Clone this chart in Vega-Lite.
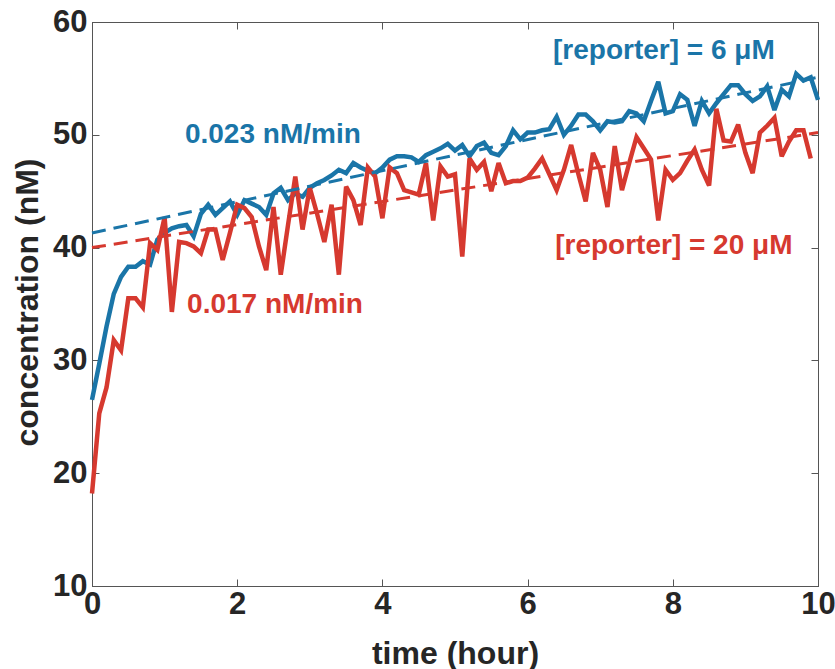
{
  "$schema": "https://vega.github.io/schema/vega-lite/v6.json",
  "width": 726,
  "height": 564,
  "autosize": {"type": "none"},
  "padding": {"left": 92, "top": 22, "right": 17, "bottom": 83},
  "background": "white",
  "config": {
    "view": {"stroke": "#555555", "strokeWidth": 1},
    "axis": {
      "grid": false,
      "labelFlush": false,
      "labelOverlap": false,
      "domainColor": "#555555",
      "tickColor": "#555555",
      "labelFont": "Liberation Sans",
      "labelFontWeight": "bold",
      "labelFontSize": 31,
      "labelColor": "#262626",
      "titleFont": "Liberation Sans",
      "titleFontWeight": "bold",
      "titleFontSize": 32,
      "titleColor": "#262626"
    }
  },
  "datasets": {
    "series": [
      {"t": 0.0, "v": 26.5, "s": "blue"}, {"t": 0.1, "v": 29.7, "s": "blue"}, {"t": 0.2, "v": 33.0, "s": "blue"}, {"t": 0.3, "v": 35.9, "s": "blue"}, {"t": 0.4, "v": 37.4, "s": "blue"},
      {"t": 0.5, "v": 38.3, "s": "blue"}, {"t": 0.6, "v": 38.3, "s": "blue"}, {"t": 0.7, "v": 38.8, "s": "blue"}, {"t": 0.8, "v": 38.5, "s": "blue"}, {"t": 0.9, "v": 40.7, "s": "blue"},
      {"t": 1.0, "v": 41.3, "s": "blue"}, {"t": 1.1, "v": 41.7, "s": "blue"}, {"t": 1.2, "v": 41.9, "s": "blue"}, {"t": 1.3, "v": 42.0, "s": "blue"}, {"t": 1.4, "v": 41.0, "s": "blue"},
      {"t": 1.5, "v": 43.0, "s": "blue"}, {"t": 1.6, "v": 43.8, "s": "blue"}, {"t": 1.7, "v": 42.9, "s": "blue"}, {"t": 1.8, "v": 43.5, "s": "blue"}, {"t": 1.9, "v": 44.1, "s": "blue"},
      {"t": 2.0, "v": 42.9, "s": "blue"}, {"t": 2.1, "v": 44.2, "s": "blue"}, {"t": 2.2, "v": 43.9, "s": "blue"}, {"t": 2.3, "v": 43.6, "s": "blue"}, {"t": 2.4, "v": 42.9, "s": "blue"},
      {"t": 2.5, "v": 44.8, "s": "blue"}, {"t": 2.6, "v": 45.3, "s": "blue"}, {"t": 2.7, "v": 44.2, "s": "blue"}, {"t": 2.8, "v": 44.8, "s": "blue"}, {"t": 2.9, "v": 44.5, "s": "blue"},
      {"t": 3.0, "v": 45.3, "s": "blue"}, {"t": 3.1, "v": 45.7, "s": "blue"}, {"t": 3.2, "v": 46.0, "s": "blue"}, {"t": 3.3, "v": 46.4, "s": "blue"}, {"t": 3.4, "v": 46.9, "s": "blue"},
      {"t": 3.5, "v": 46.6, "s": "blue"}, {"t": 3.6, "v": 47.5, "s": "blue"}, {"t": 3.7, "v": 47.1, "s": "blue"}, {"t": 3.8, "v": 46.8, "s": "blue"}, {"t": 3.9, "v": 46.6, "s": "blue"},
      {"t": 4.0, "v": 47.1, "s": "blue"}, {"t": 4.1, "v": 47.8, "s": "blue"}, {"t": 4.2, "v": 48.1, "s": "blue"}, {"t": 4.3, "v": 48.1, "s": "blue"}, {"t": 4.4, "v": 48.0, "s": "blue"},
      {"t": 4.5, "v": 47.6, "s": "blue"}, {"t": 4.6, "v": 48.2, "s": "blue"}, {"t": 4.7, "v": 48.5, "s": "blue"}, {"t": 4.8, "v": 48.8, "s": "blue"}, {"t": 4.9, "v": 49.2, "s": "blue"},
      {"t": 5.0, "v": 48.6, "s": "blue"}, {"t": 5.1, "v": 49.1, "s": "blue"}, {"t": 5.2, "v": 48.1, "s": "blue"}, {"t": 5.3, "v": 49.0, "s": "blue"}, {"t": 5.4, "v": 49.3, "s": "blue"},
      {"t": 5.5, "v": 48.4, "s": "blue"}, {"t": 5.6, "v": 48.2, "s": "blue"}, {"t": 5.7, "v": 49.0, "s": "blue"}, {"t": 5.8, "v": 50.4, "s": "blue"}, {"t": 5.9, "v": 49.6, "s": "blue"},
      {"t": 6.0, "v": 50.2, "s": "blue"}, {"t": 6.1, "v": 50.2, "s": "blue"}, {"t": 6.2, "v": 50.4, "s": "blue"}, {"t": 6.3, "v": 50.5, "s": "blue"}, {"t": 6.4, "v": 51.6, "s": "blue"},
      {"t": 6.5, "v": 50.0, "s": "blue"}, {"t": 6.6, "v": 50.8, "s": "blue"}, {"t": 6.7, "v": 51.8, "s": "blue"}, {"t": 6.8, "v": 51.8, "s": "blue"}, {"t": 6.9, "v": 51.2, "s": "blue"},
      {"t": 7.0, "v": 50.4, "s": "blue"}, {"t": 7.1, "v": 51.2, "s": "blue"}, {"t": 7.2, "v": 51.1, "s": "blue"}, {"t": 7.3, "v": 51.2, "s": "blue"}, {"t": 7.4, "v": 52.1, "s": "blue"},
      {"t": 7.5, "v": 51.9, "s": "blue"}, {"t": 7.6, "v": 51.2, "s": "blue"}, {"t": 7.7, "v": 53.0, "s": "blue"}, {"t": 7.8, "v": 54.7, "s": "blue"}, {"t": 7.9, "v": 51.9, "s": "blue"},
      {"t": 8.0, "v": 52.1, "s": "blue"}, {"t": 8.1, "v": 53.6, "s": "blue"}, {"t": 8.2, "v": 53.1, "s": "blue"}, {"t": 8.3, "v": 50.8, "s": "blue"}, {"t": 8.4, "v": 53.0, "s": "blue"},
      {"t": 8.5, "v": 51.9, "s": "blue"}, {"t": 8.6, "v": 52.8, "s": "blue"}, {"t": 8.7, "v": 53.6, "s": "blue"}, {"t": 8.8, "v": 54.4, "s": "blue"}, {"t": 8.9, "v": 54.4, "s": "blue"},
      {"t": 9.0, "v": 53.6, "s": "blue"}, {"t": 9.1, "v": 53.0, "s": "blue"}, {"t": 9.2, "v": 53.4, "s": "blue"}, {"t": 9.3, "v": 54.3, "s": "blue"}, {"t": 9.4, "v": 52.2, "s": "blue"},
      {"t": 9.5, "v": 54.0, "s": "blue"}, {"t": 9.6, "v": 53.4, "s": "blue"}, {"t": 9.7, "v": 55.4, "s": "blue"}, {"t": 9.8, "v": 54.8, "s": "blue"}, {"t": 9.9, "v": 55.1, "s": "blue"},
      {"t": 10.0, "v": 53.1, "s": "blue"},
      {"t": 0.0, "v": 18.2, "s": "red"}, {"t": 0.1, "v": 25.3, "s": "red"}, {"t": 0.2, "v": 27.6, "s": "red"}, {"t": 0.3, "v": 31.8, "s": "red"}, {"t": 0.4, "v": 30.9, "s": "red"},
      {"t": 0.5, "v": 35.5, "s": "red"}, {"t": 0.6, "v": 35.5, "s": "red"}, {"t": 0.7, "v": 34.7, "s": "red"}, {"t": 0.8, "v": 40.4, "s": "red"}, {"t": 0.9, "v": 39.8, "s": "red"},
      {"t": 1.0, "v": 42.7, "s": "red"}, {"t": 1.1, "v": 34.3, "s": "red"}, {"t": 1.2, "v": 40.5, "s": "red"}, {"t": 1.3, "v": 40.4, "s": "red"}, {"t": 1.4, "v": 40.1, "s": "red"},
      {"t": 1.5, "v": 39.5, "s": "red"}, {"t": 1.6, "v": 41.6, "s": "red"}, {"t": 1.7, "v": 41.6, "s": "red"}, {"t": 1.8, "v": 38.9, "s": "red"}, {"t": 1.9, "v": 41.3, "s": "red"},
      {"t": 2.0, "v": 43.8, "s": "red"}, {"t": 2.1, "v": 43.5, "s": "red"}, {"t": 2.2, "v": 42.7, "s": "red"}, {"t": 2.3, "v": 40.1, "s": "red"}, {"t": 2.4, "v": 38.0, "s": "red"},
      {"t": 2.5, "v": 43.6, "s": "red"}, {"t": 2.6, "v": 37.6, "s": "red"}, {"t": 2.7, "v": 42.0, "s": "red"}, {"t": 2.8, "v": 46.3, "s": "red"}, {"t": 2.9, "v": 41.6, "s": "red"},
      {"t": 3.0, "v": 45.3, "s": "red"}, {"t": 3.1, "v": 43.0, "s": "red"}, {"t": 3.2, "v": 40.5, "s": "red"}, {"t": 3.3, "v": 43.8, "s": "red"}, {"t": 3.4, "v": 37.6, "s": "red"},
      {"t": 3.5, "v": 45.4, "s": "red"}, {"t": 3.6, "v": 44.2, "s": "red"}, {"t": 3.7, "v": 42.0, "s": "red"}, {"t": 3.8, "v": 47.1, "s": "red"}, {"t": 3.9, "v": 46.3, "s": "red"},
      {"t": 4.0, "v": 42.6, "s": "red"}, {"t": 4.1, "v": 47.1, "s": "red"}, {"t": 4.2, "v": 46.6, "s": "red"}, {"t": 4.3, "v": 45.1, "s": "red"}, {"t": 4.4, "v": 44.9, "s": "red"},
      {"t": 4.5, "v": 44.7, "s": "red"}, {"t": 4.6, "v": 47.5, "s": "red"}, {"t": 4.7, "v": 42.4, "s": "red"}, {"t": 4.8, "v": 47.2, "s": "red"}, {"t": 4.9, "v": 46.3, "s": "red"},
      {"t": 5.0, "v": 46.5, "s": "red"}, {"t": 5.1, "v": 39.2, "s": "red"}, {"t": 5.2, "v": 47.9, "s": "red"}, {"t": 5.3, "v": 46.9, "s": "red"}, {"t": 5.4, "v": 47.6, "s": "red"},
      {"t": 5.5, "v": 45.0, "s": "red"}, {"t": 5.6, "v": 47.5, "s": "red"}, {"t": 5.7, "v": 45.7, "s": "red"}, {"t": 5.8, "v": 45.9, "s": "red"}, {"t": 5.9, "v": 45.9, "s": "red"},
      {"t": 6.0, "v": 46.2, "s": "red"}, {"t": 6.1, "v": 47.0, "s": "red"}, {"t": 6.2, "v": 47.9, "s": "red"}, {"t": 6.3, "v": 46.5, "s": "red"}, {"t": 6.4, "v": 45.1, "s": "red"},
      {"t": 6.5, "v": 46.9, "s": "red"}, {"t": 6.6, "v": 49.1, "s": "red"}, {"t": 6.7, "v": 46.5, "s": "red"}, {"t": 6.8, "v": 44.1, "s": "red"}, {"t": 6.9, "v": 48.4, "s": "red"},
      {"t": 7.0, "v": 46.9, "s": "red"}, {"t": 7.1, "v": 43.6, "s": "red"}, {"t": 7.2, "v": 49.0, "s": "red"}, {"t": 7.3, "v": 45.1, "s": "red"}, {"t": 7.4, "v": 47.5, "s": "red"},
      {"t": 7.5, "v": 49.8, "s": "red"}, {"t": 7.6, "v": 48.8, "s": "red"}, {"t": 7.7, "v": 47.8, "s": "red"}, {"t": 7.8, "v": 42.4, "s": "red"}, {"t": 7.9, "v": 46.9, "s": "red"},
      {"t": 8.0, "v": 46.0, "s": "red"}, {"t": 8.1, "v": 46.6, "s": "red"}, {"t": 8.2, "v": 47.7, "s": "red"}, {"t": 8.3, "v": 48.7, "s": "red"}, {"t": 8.4, "v": 46.9, "s": "red"},
      {"t": 8.5, "v": 45.5, "s": "red"}, {"t": 8.6, "v": 52.3, "s": "red"}, {"t": 8.7, "v": 49.5, "s": "red"}, {"t": 8.8, "v": 49.4, "s": "red"}, {"t": 8.9, "v": 50.9, "s": "red"},
      {"t": 9.0, "v": 48.4, "s": "red"}, {"t": 9.1, "v": 46.6, "s": "red"}, {"t": 9.2, "v": 50.2, "s": "red"}, {"t": 9.3, "v": 50.8, "s": "red"}, {"t": 9.4, "v": 51.5, "s": "red"},
      {"t": 9.5, "v": 48.1, "s": "red"}, {"t": 9.6, "v": 49.4, "s": "red"}, {"t": 9.7, "v": 50.4, "s": "red"}, {"t": 9.8, "v": 50.4, "s": "red"}, {"t": 9.9, "v": 47.9, "s": "red"}
    ],
    "fits": [
      {"t": 0, "v": 41.3, "s": "blue"}, {"t": 10, "v": 55.1, "s": "blue"},
      {"t": 0, "v": 40.0, "s": "red"}, {"t": 10, "v": 50.2, "s": "red"}
    ],
    "labels": [
      {"t": 1.28, "v": 50.0, "s": "blue", "text": "0.023 nM/min"},
      {"t": 6.35, "v": 57.4, "s": "blue", "text": "[reporter] = 6 μM"},
      {"t": 1.31, "v": 34.9, "s": "red", "text": "0.017 nM/min"},
      {"t": 6.38, "v": 40.1, "s": "red", "text": "[reporter] = 20 μM"}
    ]
  },
  "layer": [
    {
      "data": {"name": "series"},
      "mark": {"type": "line", "strokeWidth": 4.5, "strokeJoin": "miter", "strokeMiterLimit": 3},
      "encoding": {
        "x": {"field": "t", "type": "quantitative", "scale": {"domain": [0, 10], "nice": false, "zero": false},
              "axis": {"orient": "bottom", "values": [0, 2, 4, 6, 8, 10], "tickSize": -7, "labelPadding": 10, "title": "time (hour)", "titleY": 52, "titleBaseline": "top"}},
        "y": {"field": "v", "type": "quantitative", "scale": {"domain": [10, 60], "nice": false, "zero": false},
              "axis": {"orient": "left", "values": [10, 20, 30, 40, 50, 60], "tickSize": -7, "labelPadding": 12, "title": "concentration (nM)", "titleX": -48, "titleY": 280}},
        "color": {"field": "s", "type": "nominal", "scale": {"domain": ["blue", "red"], "range": ["#1a75a8", "#d6392f"]}, "legend": null},
        "detail": {"field": "s"}
      }
    },
    {
      "data": {"name": "fits"},
      "mark": {"type": "line", "strokeWidth": 3, "strokeDash": [14, 8]},
      "encoding": {
        "x": {"field": "t", "type": "quantitative", "axis": {"orient": "top", "values": [0, 2, 4, 6, 8, 10], "tickSize": -7, "labels": false, "title": null}},
        "y": {"field": "v", "type": "quantitative", "axis": {"orient": "right", "values": [10, 20, 30, 40, 50, 60], "tickSize": -7, "labels": false, "title": null}},
        "color": {"field": "s", "type": "nominal", "legend": null},
        "detail": {"field": "s"}
      }
    },
    {
      "data": {"name": "labels"},
      "mark": {"type": "text", "align": "left", "baseline": "middle", "font": "Liberation Sans", "fontWeight": "bold", "fontSize": 28},
      "encoding": {
        "x": {"field": "t", "type": "quantitative", "axis": null},
        "y": {"field": "v", "type": "quantitative", "axis": null},
        "text": {"field": "text"},
        "color": {"field": "s", "type": "nominal", "legend": null}
      }
    }
  ],
  "resolve": {"axis": {"x": "independent", "y": "independent"}}
}
